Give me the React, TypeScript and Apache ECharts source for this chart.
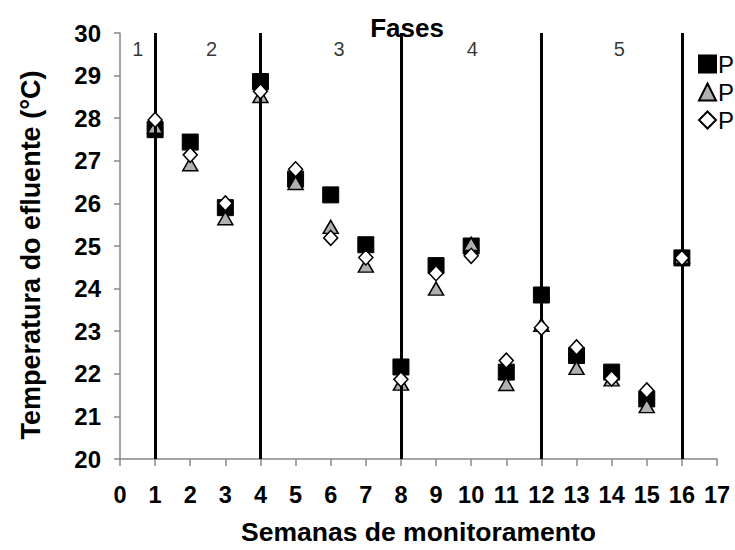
import React, { useEffect, useRef } from "react";
import * as echarts from "echarts";

// Semanas de monitoramento (eixo x)
const weeks = [1, 2, 3, 4, 5, 6, 7, 8, 9, 10, 11, 12, 13, 14, 15, 16];

// Temperatura do efluente (°C) por ponto
const seriesNames = ["P1", "P2", "P3"];
const p1 = [27.73, 27.44, 25.9, 28.86, 26.57, 26.2, 25.03, 22.16, 24.54, 25.0, 22.04, 23.85, 22.43, 22.04, 21.41, 24.72];
const p2 = [27.8, 26.92, 25.65, 28.52, 26.48, 25.45, 24.54, 21.77, 24.0, 25.05, 21.76, 23.15, 22.14, 21.87, 21.24, 24.75];
const p3 = [27.96, 27.14, 26.0, 28.63, 26.8, 25.19, 24.73, 21.87, 24.36, 24.77, 22.31, 23.08, 22.62, 21.89, 21.61, 24.72];

// Limites entre as fases e rótulos das fases
const phaseBounds = [1, 4, 8, 12, 16];
const phaseLabels = ["1", "2", "3", "4", "5"];
const phaseLabelX = [0.51, 2.61, 6.24, 10.03, 14.22];
const phaseLabelY = 29.62;

const FONT = "'Liberation Sans', Arial, sans-serif";

export default function App() {
  const ref = useRef<HTMLDivElement>(null);

  useEffect(() => {
    if (!ref.current) return;
    document.body.style.margin = "0";
    const chart = echarts.init(ref.current, undefined, { renderer: "svg" });
    const pairs = (vals: number[]) => weeks.map((w, i) => [w, vals[i]]);

    chart.setOption({
      animation: false,
      backgroundColor: "#ffffff",
      textStyle: { fontFamily: FONT },
      title: {
        text: "Fases",
        left: 402,
        top: 10,
        textAlign: "center",
        textStyle: { fontFamily: FONT, fontSize: 26, fontWeight: "bold", color: "#000" },
      },
      legend: {
        orient: "vertical",
        left: 693,
        top: 47,
        itemWidth: 17,
        itemHeight: 17,
        itemGap: 4,
        formatter: (name: string) => name.charAt(0),
        textStyle: { fontFamily: FONT, fontSize: 24, color: "#000", padding: [0, 0, 0, -3] },
        data: [
          { name: seriesNames[0], icon: "rect" },
          { name: seriesNames[1], icon: "triangle" },
          { name: seriesNames[2], icon: "diamond" },
        ],
      },
      grid: { left: 120, right: 18, top: 33, bottom: 82, containLabel: false },
      xAxis: {
        type: "value",
        min: 0,
        max: 17,
        interval: 1,
        name: "Semanas de monitoramento",
        nameLocation: "middle",
        nameGap: 59,
        nameTextStyle: { fontFamily: FONT, fontSize: 26.5, fontWeight: "bold", color: "#000" },
        axisLine: { show: true, lineStyle: { color: "#888888", width: 1.5 } },
        axisTick: { show: true, length: 7, lineStyle: { color: "#888888", width: 1.5 } },
        axisLabel: { margin: 24, fontFamily: FONT, fontSize: 23.5, fontWeight: "bold", color: "#000" },
        splitLine: { show: false },
      },
      yAxis: {
        type: "value",
        min: 20,
        max: 30,
        interval: 1,
        name: "Temperatura do efluente (°C)",
        nameLocation: "middle",
        nameRotate: 90,
        nameGap: 76,
        nameTextStyle: {
          fontFamily: FONT,
          fontSize: 27,
          fontWeight: "bold",
          color: "#000",
          padding: [0, 0, 0, -18],
        },
        axisLine: { show: true, lineStyle: { color: "#888888", width: 1.5 } },
        axisTick: { show: true, length: 6, lineStyle: { color: "#888888", width: 1.5 } },
        axisLabel: { margin: 19, fontFamily: FONT, fontSize: 24, fontWeight: "bold", color: "#000" },
        splitLine: { show: false },
      },
      series: [
        {
          // linhas verticais que separam as fases
          type: "line",
          data: [],
          z: 1,
          silent: true,
          markLine: {
            silent: true,
            symbol: "none",
            label: { show: false },
            lineStyle: { color: "#000", width: 3, type: "solid" },
            data: phaseBounds.map((x) => ({ xAxis: x })),
          },
        },
        {
          // números das fases
          type: "scatter",
          z: 1,
          silent: true,
          symbolSize: 1,
          itemStyle: { color: "rgba(0,0,0,0)" },
          label: {
            show: true,
            position: "inside",
            fontFamily: FONT,
            fontSize: 20,
            color: "#000",
            formatter: (p: any) => p.value[2],
          },
          data: phaseLabelX.map((x, i) => [x, phaseLabelY, phaseLabels[i]]),
        },
        {
          name: seriesNames[0],
          type: "scatter",
          symbol: "rect",
          symbolSize: 16,
          z: 3,
          itemStyle: { color: "#000", borderColor: "#000", borderWidth: 1, opacity: 1 },
          data: pairs(p1),
        },
        {
          name: seriesNames[1],
          type: "scatter",
          symbol: "triangle",
          symbolSize: [15, 13],
          z: 4,
          itemStyle: { color: "#b0b0b0", borderColor: "#000", borderWidth: 1.5, opacity: 1 },
          data: pairs(p2),
        },
        {
          name: seriesNames[2],
          type: "scatter",
          symbol: "diamond",
          symbolSize: [14, 15],
          z: 5,
          itemStyle: { color: "#fff", borderColor: "#000", borderWidth: 1.5, opacity: 1 },
          data: pairs(p3),
        },
      ],
    });

    return () => chart.dispose();
  }, []);

  return <div ref={ref} style={{ width: 735, height: 550 }} />;
}
